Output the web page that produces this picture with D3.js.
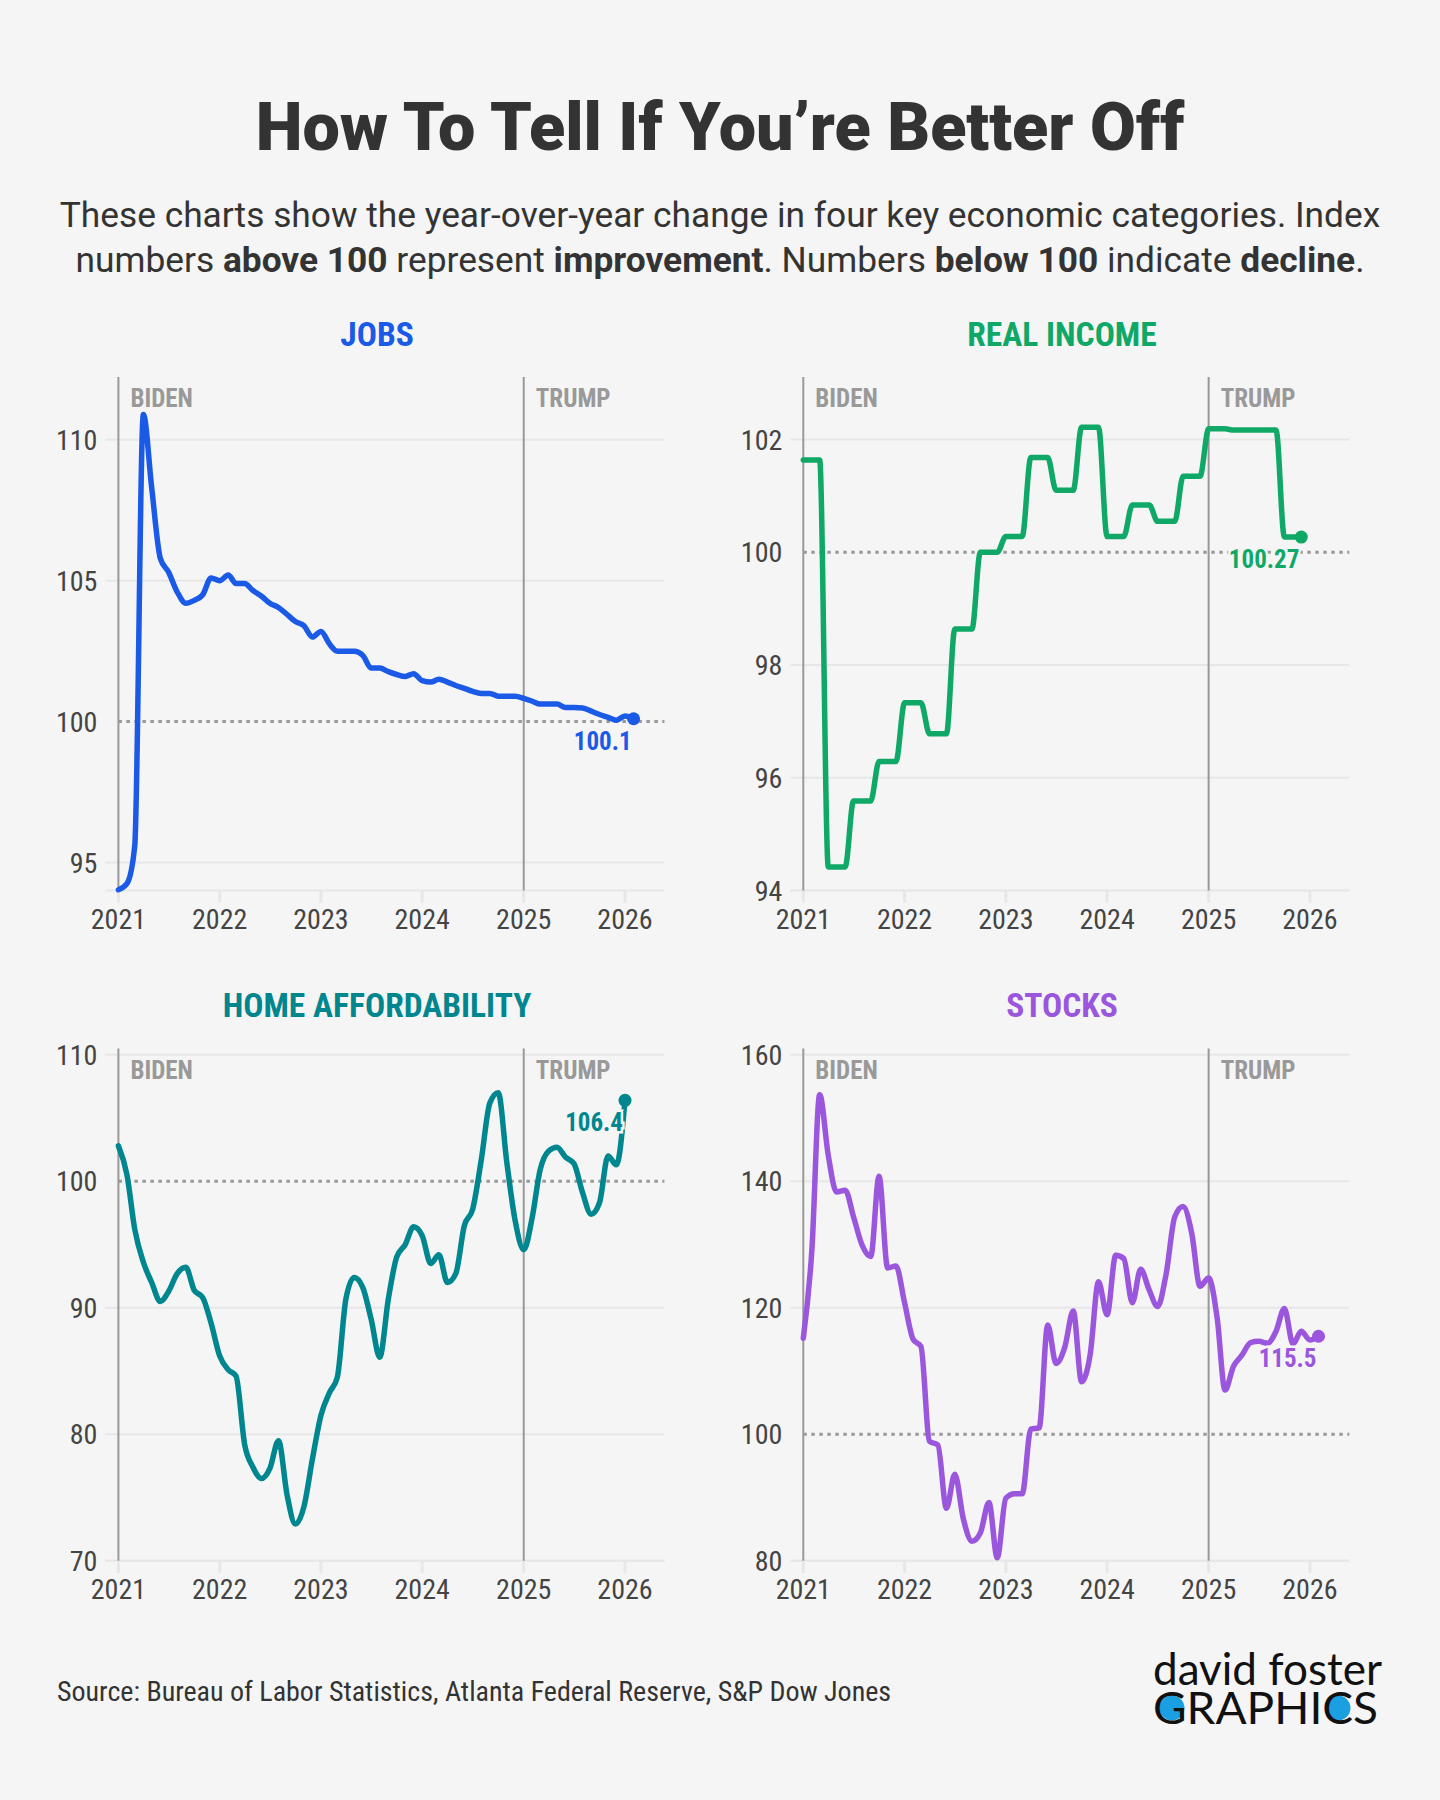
<!DOCTYPE html>
<html lang="en">
<head>
<meta charset="UTF-8">
<title>How To Tell If You're Better Off</title>
<script src="https://cdnjs.cloudflare.com/ajax/libs/d3/7.8.5/d3.min.js"></script>
<style>
    body { margin: 0; background: #f5f5f5; }
    svg { display: block; font-family: "Roboto", sans-serif; }
    .cond { font-stretch: 75%; }
</style>
</head>
<body>
<svg width="1440" height="1800"></svg>
<script>
// monthly index values, first value = Jan 2021
const jobsValues = [
    94.03, 94.25, 95.6, 110.9, 108.3, 105.8, 105.3, 104.6, 104.2, 104.3, 104.5, 105.1,
    105.0, 105.2, 104.9, 104.9, 104.65, 104.45, 104.2, 104.05, 103.8, 103.55, 103.4, 103.0,
    103.2, 102.75, 102.5, 102.5, 102.5, 102.35, 101.9, 101.9, 101.77, 101.67, 101.6, 101.7,
    101.45, 101.4, 101.5, 101.4, 101.28, 101.18, 101.07, 101.0, 101.0, 100.9, 100.9, 100.9,
    100.82, 100.72, 100.62, 100.62, 100.62, 100.5, 100.5, 100.48, 100.37, 100.25, 100.15, 100.05,
    100.2, 100.1
];
const realIncomeValues = [
    101.64, 101.64, 101.64, 94.42, 94.42, 94.42, 95.59, 95.59, 95.59, 96.29, 96.29, 96.29,
    97.33, 97.33, 97.33, 96.78, 96.78, 96.78, 98.64, 98.64, 98.64, 100.0, 100.0, 100.0,
    100.28, 100.28, 100.28, 101.68, 101.68, 101.68, 101.1, 101.1, 101.1, 102.22, 102.22, 102.22,
    100.28, 100.28, 100.28, 100.84, 100.84, 100.84, 100.55, 100.55, 100.55, 101.35, 101.35, 101.35,
    102.19, 102.19, 102.19, 102.17, 102.17, 102.17, 102.17, 102.17, 102.17, 100.27, 100.27, 100.27
];
const homeValues = [
    102.8, 100.5, 96.2, 93.6, 92.0, 90.5, 91.3, 92.7, 93.2, 91.4, 90.8, 88.8,
    86.2, 85.1, 84.6, 79.2, 77.4, 76.5, 77.3, 79.5, 75.2, 72.9, 74.3, 78.0,
    81.5, 83.3, 84.5, 90.7, 92.4, 91.6, 89.1, 86.1, 90.7, 94.0, 95.0, 96.4,
    95.7, 93.5, 94.2, 92.0, 92.7, 96.5, 97.8, 101.7, 106.2, 107.0, 101.5, 96.9,
    94.6, 97.2, 100.9, 102.4, 102.7, 101.9, 101.4, 99.1, 97.4, 98.3, 102.0, 101.3,
    106.4
];
const stocksValues = [
    115.2, 129.2, 153.7, 144.1, 138.3, 138.6, 134.4, 129.9, 128.1, 140.8, 126.3, 126.6,
    120.8, 115.0, 113.9, 98.9, 98.3, 88.3, 93.7, 86.6, 83.1, 84.4, 89.2, 80.5,
    89.9, 90.6, 90.6, 100.8, 101.0, 117.3, 111.2, 113.7, 119.5, 108.3, 112.6, 124.1,
    118.9, 128.3, 127.8, 120.8, 126.1, 122.8, 120.2, 125.4, 134.4, 136.0, 131.8, 123.4,
    124.7, 118.3, 107.0, 110.8, 112.5, 114.5, 114.7, 114.4, 116.3, 119.9, 114.3, 116.3,
    114.9, 115.5
];

const jobsTicks = [95, 100, 105, 110];
const realIncomeTicks = [94, 96, 98, 100, 102];
const homeTicks = [70, 80, 90, 100, 110];
const stocksTicks = [80, 100, 120, 140, 160];
const yearTicks = [2021, 2022, 2023, 2024, 2025, 2026];

const svg = d3.select("svg");
svg.append("rect").attr("width", 1440).attr("height", 1800).attr("fill", "#f5f5f5");

// header
svg.append("text")
    .attr("x", 720).attr("y", 150)
    .attr("text-anchor", "middle")
    .attr("font-size", 66.5).attr("font-weight", 900)
    .attr("fill", "#333")
    .text("How To Tell If You\u2019re Better Off");

const sub = [
    [["These charts show the year-over-year change in four key economic categories. Index", 400]],
    [["numbers ", 400], ["above 100", 700], [" represent ", 400], ["improvement", 700],
     [". Numbers ", 400], ["below 100", 700], [" indicate ", 400], ["decline", 700], [".", 400]]
];
sub.forEach((line, i) => {
    const t = svg.append("text")
        .attr("x", 720).attr("y", 227 + i * 45)
        .attr("text-anchor", "middle")
        .attr("font-size", 35.3)
        .attr("fill", "#333");
    line.forEach(([s, w]) => t.append("tspan").attr("font-weight", w).text(s));
});

const panels = [
    { title: "JOBS", color: "#1a5ae6", values: jobsValues, ticks: jobsTicks, domain: [94, 112.23],
      left: 118.4, top: 377, bottom: 890.6, titleX: 377, titleY: 346, fmt: d3.format(".1f") },
    { title: "REAL INCOME", color: "#0fa866", values: realIncomeValues, ticks: realIncomeTicks, domain: [94, 103.11],
      left: 803.3, top: 377, bottom: 890.6, titleX: 1062, titleY: 346, fmt: d3.format(".2f") },
    { title: "HOME AFFORDABILITY", color: "#00868f", values: homeValues, ticks: homeTicks, domain: [70, 110.49],
      left: 118.4, top: 1048.6, bottom: 1560.8, titleX: 377, titleY: 1017, fmt: d3.format(".1f") },
    { title: "STOCKS", color: "#9b56de", values: stocksValues, ticks: stocksTicks, domain: [80, 160.98],
      left: 803.3, top: 1048.6, bottom: 1560.8, titleX: 1062, titleY: 1017, fmt: d3.format(".1f") }
];

const start = new Date(2021, 0, 1);

panels.forEach(p => {
    const g = svg.append("g");
    const x = d3.scaleTime()
        .domain([start, new Date(2026, 0, 1)])
        .range([p.left, p.left + 506.6]);
    const y = d3.scaleLinear().domain(p.domain).range([p.bottom, p.top]);
    const right = p.left + 546;

    g.append("text")
        .attr("class", "cond")
        .attr("x", p.titleX).attr("y", p.titleY)
        .attr("text-anchor", "middle")
        .attr("font-size", 33.5).attr("font-weight", 700)
        .attr("fill", p.color)
        .text(p.title);

    // gridlines
    g.selectAll(".grid")
        .data(p.ticks.filter(t => t !== 100))
        .enter().append("line")
        .attr("x1", p.left - 13).attr("x2", right)
        .attr("y1", d => y(d)).attr("y2", d => y(d))
        .attr("stroke", "#e7e7e7").attr("stroke-width", 2);

    g.append("line")
        .attr("x1", p.left - 13).attr("x2", right)
        .attr("y1", p.bottom).attr("y2", p.bottom)
        .attr("stroke", "#e7e7e7").attr("stroke-width", 2);

    g.selectAll(".ytick")
        .data(p.ticks)
        .enter().append("text")
        .attr("class", "cond")
        .attr("x", p.left - 21).attr("y", d => y(d))
        .attr("dy", "0.36em")
        .attr("text-anchor", "end")
        .attr("font-size", 28).attr("fill", "#444")
        .text(d => d);

    // year ticks
    g.selectAll(".xtick")
        .data(yearTicks)
        .enter().append("line")
        .attr("x1", d => x(new Date(d, 0, 1))).attr("x2", d => x(new Date(d, 0, 1)))
        .attr("y1", p.bottom).attr("y2", p.bottom + 12)
        .attr("stroke", "#e7e7e7").attr("stroke-width", 3);

    g.selectAll(".xlabel")
        .data(yearTicks)
        .enter().append("text")
        .attr("class", "cond")
        .attr("x", d => x(new Date(d, 0, 1))).attr("y", p.bottom + 38)
        .attr("text-anchor", "middle")
        .attr("font-size", 28).attr("fill", "#444")
        .text(d => d);

    // 100 reference
    g.append("line")
        .attr("x1", p.left).attr("x2", right)
        .attr("y1", y(100)).attr("y2", y(100))
        .attr("stroke", "#999").attr("stroke-width", 3)
        .attr("stroke-dasharray", "3.5,4.5");

    // terms
    [[2021, "BIDEN"], [2025, "TRUMP"]].forEach(([yr, name]) => {
        const xx = x(new Date(yr, 0, 1));
        g.append("line")
            .attr("x1", xx).attr("x2", xx)
            .attr("y1", p.top).attr("y2", p.bottom)
            .attr("stroke", "#999").attr("stroke-width", 2);
        g.append("text")
            .attr("class", "cond")
            .attr("x", xx + 12).attr("y", p.top + 30)
            .attr("font-size", 25).attr("font-weight", 700)
            .attr("fill", "#999")
            .text(name);
    });

    const data = p.values.map((v, i) => ({ date: d3.timeMonth.offset(start, i), value: v }));
    const line = d3.line()
        .x(d => x(d.date))
        .y(d => y(d.value))
        .curve(d3.curveMonotoneX);

    g.append("path")
        .datum(data)
        .attr("d", line)
        .attr("fill", "none")
        .attr("stroke", p.color)
        .attr("stroke-width", 5.5)
        .attr("stroke-linejoin", "round")
        .attr("stroke-linecap", "round");

    const last = data[data.length - 1];
    g.append("circle")
        .attr("cx", x(last.date)).attr("cy", y(last.value))
        .attr("r", 6.5).attr("fill", p.color);

    g.append("text")
        .attr("class", "cond")
        .attr("x", x(last.date) - 2).attr("y", y(last.value) + 31)
        .attr("text-anchor", "end")
        .attr("font-size", 25).attr("font-weight", 700)
        .attr("fill", p.color)
        .attr("stroke", "#f5f5f5").attr("stroke-width", 5)
        .attr("paint-order", "stroke")
        .text(p.fmt(last.value));
});

// footer
svg.append("text")
    .attr("class", "cond")
    .attr("x", 57).attr("y", 1701)
    .attr("font-size", 28).attr("fill", "#333")
    .text("Source: Bureau of Labor Statistics, Atlanta Federal Reserve, S&P Dow Jones");

// logo
svg.append("circle").attr("cx", 1172).attr("cy", 1708).attr("r", 12.5).attr("fill", "#1a9fe0");
svg.append("circle").attr("cx", 1338).attr("cy", 1708).attr("r", 12.5).attr("fill", "#1a9fe0");
const logo = svg.append("text")
    .attr("font-family", "Lato")
    .attr("fill", "#111");
logo.append("tspan")
    .attr("x", 1153).attr("y", 1685)
    .attr("font-weight", 400).attr("font-size", 45)
    .attr("textLength", 229).attr("lengthAdjust", "spacingAndGlyphs")
    .text("david foster");
logo.append("tspan")
    .attr("x", 1153).attr("y", 1724)
    .attr("font-weight", 400).attr("font-size", 45)
    .attr("textLength", 225).attr("lengthAdjust", "spacingAndGlyphs")
    .text("GRAPHICS");
</script>
</body>
</html>
